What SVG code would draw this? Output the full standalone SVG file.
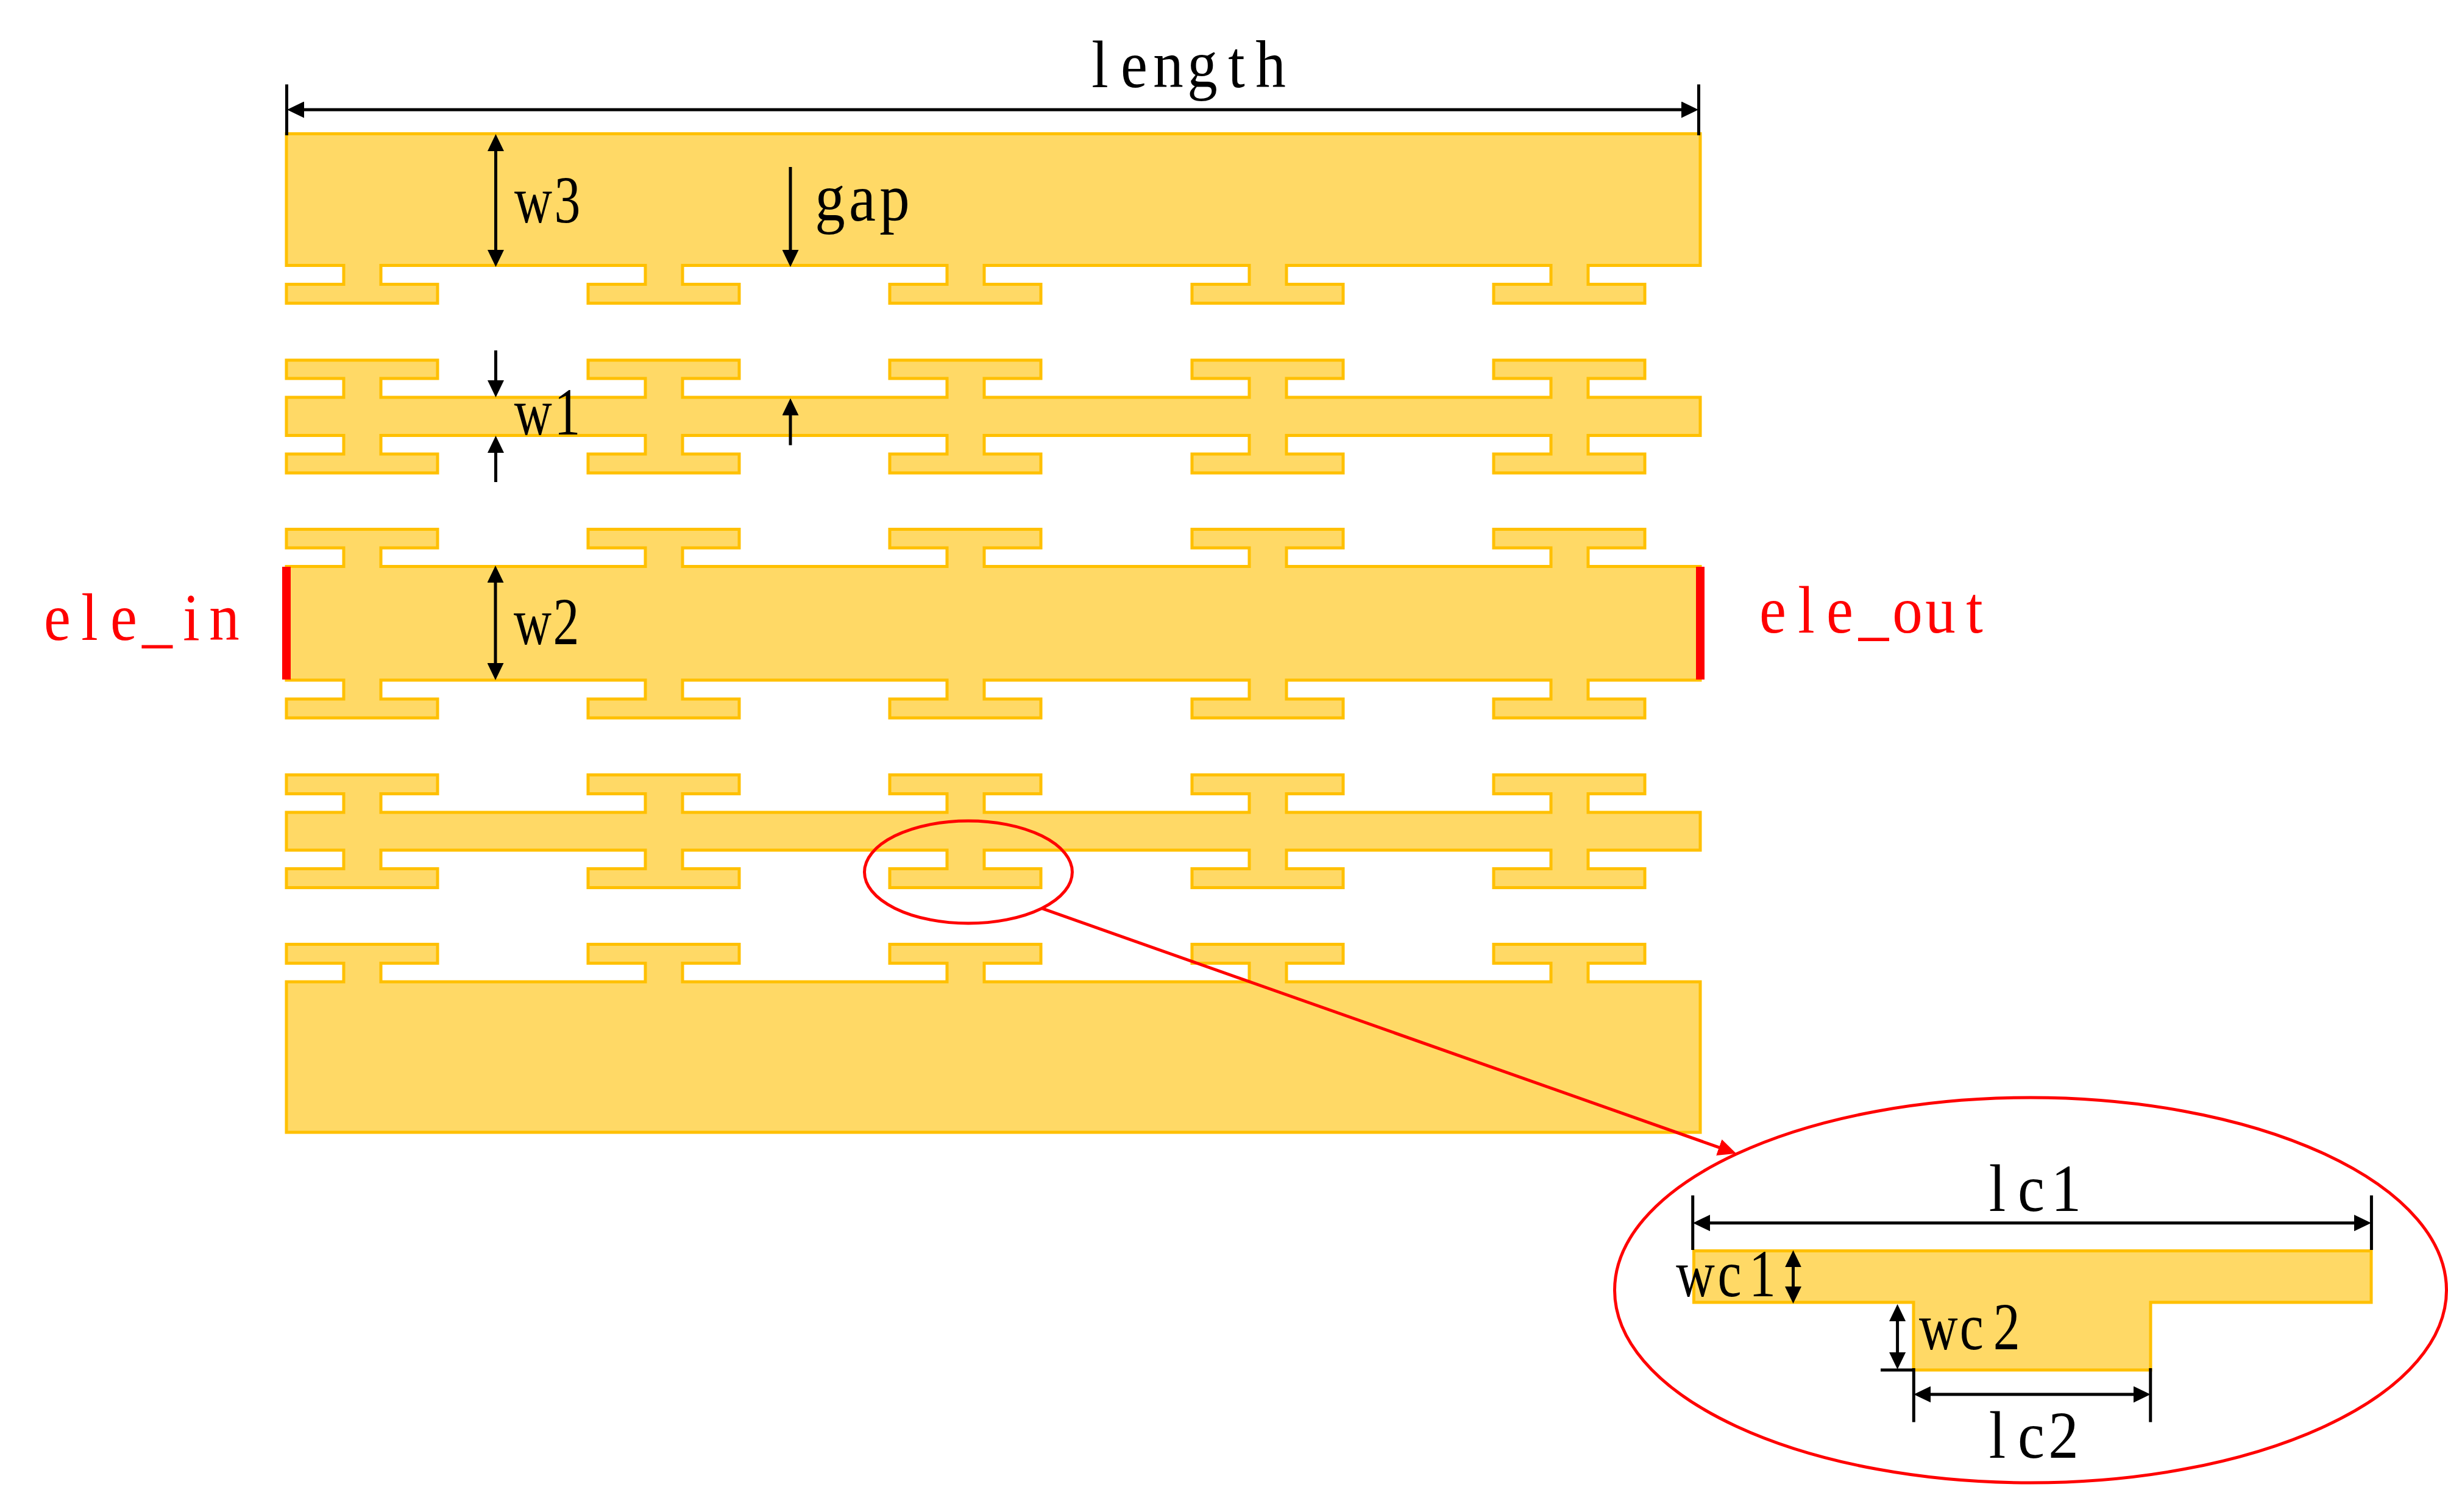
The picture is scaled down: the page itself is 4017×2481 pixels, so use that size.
<svg xmlns="http://www.w3.org/2000/svg" width="4017" height="2481" viewBox="0 0 4017 2481">
<style>
.cpw{fill:#FFD966;stroke:#FFC000;stroke-width:5;stroke-miterlimit:8}
.dim{fill:none;stroke:#000;stroke-width:5}
.arr{fill:none;stroke:#000;stroke-width:5;marker-end:url(#ah)}
.arr2{fill:none;stroke:#000;stroke-width:5;marker-start:url(#ah);marker-end:url(#ah)}
.red{fill:none;stroke:#F00;stroke-width:5}
.port{fill:#F00}
text{font-family:"Liberation Serif",serif;font-size:110px;fill:#000;text-anchor:middle}
text.r{fill:#F00}
</style>
<defs>
<marker id="ah" markerUnits="userSpaceOnUse" markerWidth="28" markerHeight="27" refX="18" refY="13.5" orient="auto-start-reverse"><path d="M0 0L28 13.5L0 27Z" fill="#000"/></marker>
<marker id="rh" markerUnits="userSpaceOnUse" markerWidth="30" markerHeight="28" refX="20" refY="14" orient="auto"><path d="M0 0L30 14L0 28Z" fill="#F00"/></marker>
</defs>
<g id="electrode-top"><path class="cpw" d="M470 219.5H2790V435.5H2606V466.5H2699V497.5H2451V466.5H2545V435.5H2111V466.5H2204V497.5H1956V466.5H2050V435.5H1615V466.5H1708V497.5H1460V466.5H1554V435.5H1120V466.5H1213V497.5H965V466.5H1059V435.5H625V466.5H718V497.5H470V466.5H564V435.5H470Z"/></g>
<g id="electrode-ground-upper"><path class="cpw" d="M470 652H564V621H470V591H718V621H625V652H1059V621H965V591H1213V621H1120V652H1554V621H1460V591H1708V621H1615V652H2050V621H1956V591H2204V621H2111V652H2545V621H2451V591H2699V621H2606V652H2790V714.5H2606V745H2699V776H2451V745H2545V714.5H2111V745H2204V776H1956V745H2050V714.5H1615V745H1708V776H1460V745H1554V714.5H1120V745H1213V776H965V745H1059V714.5H625V745H718V776H470V745H564V714.5H470Z"/></g>
<g id="electrode-signal"><path class="cpw" d="M470 929.5H564V899H470V868.5H718V899H625V929.5H1059V899H965V868.5H1213V899H1120V929.5H1554V899H1460V868.5H1708V899H1615V929.5H2050V899H1956V868.5H2204V899H2111V929.5H2545V899H2451V868.5H2699V899H2606V929.5H2790V1116H2606V1147H2699V1178H2451V1147H2545V1116H2111V1147H2204V1178H1956V1147H2050V1116H1615V1147H1708V1178H1460V1147H1554V1116H1120V1147H1213V1178H965V1147H1059V1116H625V1147H718V1178H470V1147H564V1116H470Z"/></g>
<g id="electrode-ground-lower"><path class="cpw" d="M470 1333H564V1302.5H470V1271.5H718V1302.5H625V1333H1059V1302.5H965V1271.5H1213V1302.5H1120V1333H1554V1302.5H1460V1271.5H1708V1302.5H1615V1333H2050V1302.5H1956V1271.5H2204V1302.5H2111V1333H2545V1302.5H2451V1271.5H2699V1302.5H2606V1333H2790V1395H2606V1425.5H2699V1456.5H2451V1425.5H2545V1395H2111V1425.5H2204V1456.5H1956V1425.5H2050V1395H1615V1425.5H1708V1456.5H1460V1425.5H1554V1395H1120V1425.5H1213V1456.5H965V1425.5H1059V1395H625V1425.5H718V1456.5H470V1425.5H564V1395H470Z"/></g>
<g id="electrode-bottom"><path class="cpw" d="M470 1611H564V1580.5H470V1549.5H718V1580.5H625V1611H1059V1580.5H965V1549.5H1213V1580.5H1120V1611H1554V1580.5H1460V1549.5H1708V1580.5H1615V1611H2050V1580.5H1956V1549.5H2204V1580.5H2111V1611H2545V1580.5H2451V1549.5H2699V1580.5H2606V1611H2790V1858H470Z"/></g>
<g id="port-in"><rect class="port" x="463" y="930" width="14" height="185"/><text class="r" transform="scale(.9 1)" x="104.4 163.3 225.6 286.7 348.9 408.9" y="1049.6">ele_in</text></g>
<g id="port-out"><rect class="port" x="2783" y="930" width="14" height="185"/><text class="r" transform="scale(.9 1)" x="3232.2 3293.3 3354.4 3416.1 3477.8 3537.8 3600" y="1037.7">ele_out</text></g>
<g id="detail"><path class="cpw" d="M2779.5 2052.5H3891V2137H3529V2248H3140V2137H2779.5Z"/></g>
<g id="connectors">
<ellipse class="red" cx="1589" cy="1431" rx="170.5" ry="84"/>
<ellipse class="red" cx="3332" cy="2117" rx="682.5" ry="316"/>
<path class="red" d="M1710 1490.7L2839.6 1889.4" marker-end="url(#rh)"/>
<path class="dim" d="M470.5 138.5V222M2787.5 138.5V222"/>
<path class="arr2" d="M481 180H2777"/>
<path class="arr2" d="M813.5 230V428"/>
<path class="arr" d="M1297 274V428"/>
<path class="arr" d="M813.5 575V642"/>
<path class="arr" d="M813.5 791V725"/>
<path class="arr" d="M1297 730.5V663.5"/>
<path class="arr2" d="M813 938V1106"/>
<path class="dim" d="M2777.7 1961.5V2051M3891.4 1961.5V2051"/>
<path class="arr2" d="M2788 2006.7H3881"/>
<path class="arr2" d="M2942.5 2061.4V2129"/>
<path class="arr2" d="M3113.6 2150V2237"/>
<path class="dim" d="M3086 2248H3140M3140.3 2245V2333.5M3528.8 2245V2333.5"/>
<path class="arr2" d="M3150.3 2288H3518.8"/>
</g>
<g id="labels">
<text transform="scale(.9 1)" x="2005.6 2067.8 2130 2192.2 2254.4 2316.7" y="143">length</text>
<text transform="scale(.78 1)" x="1121.7 1193.5" y="365">w3</text>
<text transform="scale(.9 1)" x="1513.3 1572.2 1631.1" y="362">gap</text>
<text transform="scale(.78 1)" x="1121.5 1193.5" y="712.6">w1</text>
<text transform="scale(.78 1)" x="1120.5 1191" y="1057">w2</text>
<text transform="scale(.9 1)" x="3641.7 3703.3 3767.2" y="1987">lc1</text>
<text transform="scale(.8 1)" x="3477.5 3547.5 3615" y="2127.4">wc1</text>
<text transform="scale(.8 1)" x="3976 4044 4116" y="2213.7">wc2</text>
<text transform="scale(.9 1)" x="3641.7 3703.3 3762.2" y="2392.5">lc2</text>
</g>
</svg>
